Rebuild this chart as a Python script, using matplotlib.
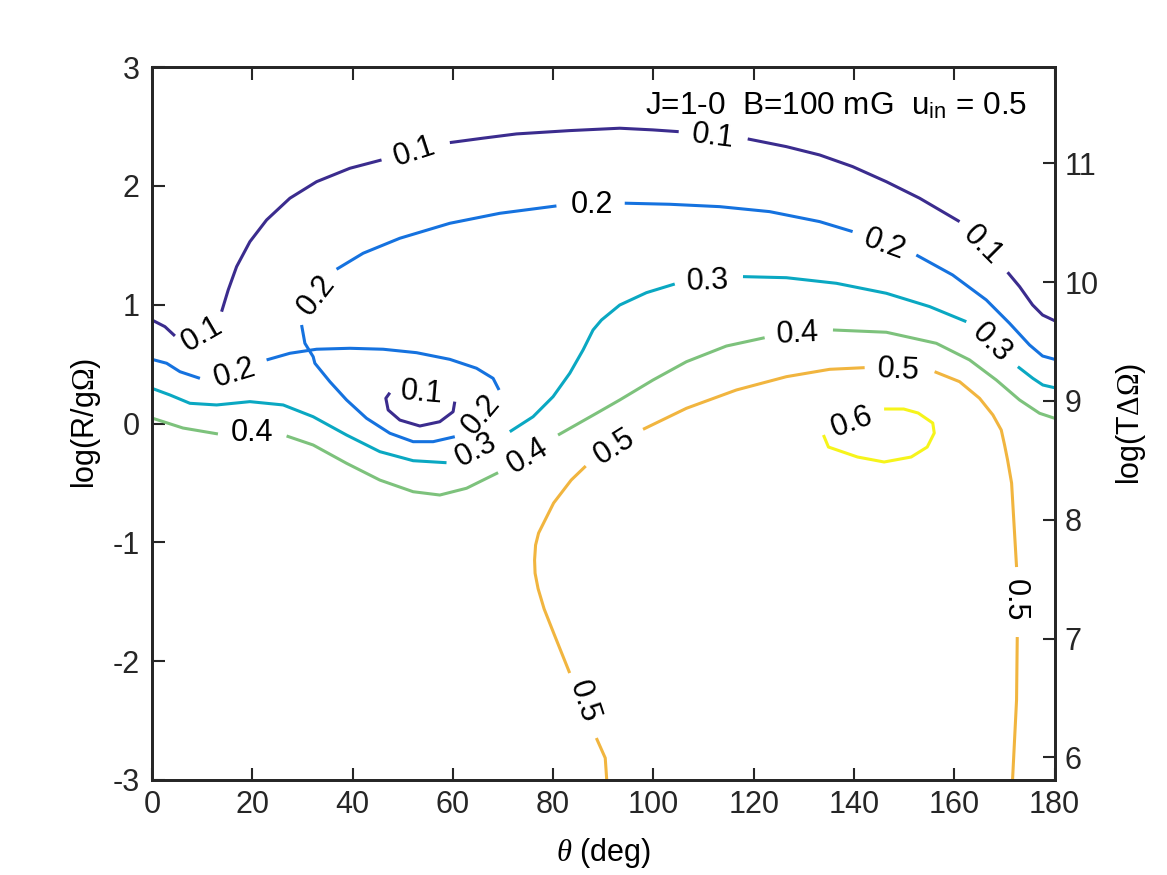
import numpy as np
import matplotlib
matplotlib.use('Agg')
import matplotlib.pyplot as plt

plt.rcParams['font.family'] = ['Liberation Sans', 'DejaVu Sans']
plt.rcParams['axes.unicode_minus'] = False
plt.rcParams['mathtext.fontset'] = 'custom'
plt.rcParams['mathtext.it'] = 'Liberation Serif:italic'
plt.rcParams['mathtext.rm'] = 'Liberation Serif'
plt.rcParams['mathtext.sf'] = 'Liberation Sans'

# contour levels and parula-like colours
levels = [0.1, 0.2, 0.3, 0.4, 0.5, 0.6]
level_colors = ['#3b2c8e', '#1572df', '#0aa8c2', '#7dc27c', '#f1b53f', '#f6f41b']

# traced contour pieces (theta in deg, log(R/g Omega)); gaps are where labels sit
lev01_theta = [[0, 2.59, 4.58],
               [13.89, 15.21, 16.88, 19.53, 22.86, 27.51, 32.83, 39.47, 45.78],
               [59.40, 65.97, 72.69, 83.32, 93.28, 99.86, 105.04],
               [118.80, 126.51, 133.15, 139.72, 146.44, 153.08, 161.05],
               [170.62, 173.01, 175.60, 177.60, 180],
               [47.44, 46.64, 47.10, 49.43, 53.42, 57.40, 60.05, 60.39]]
lev01_logr = [[0.871, 0.815, 0.737],
              [0.941, 1.124, 1.320, 1.530, 1.713, 1.896, 2.035, 2.148, 2.218],
              [2.364, 2.401, 2.437, 2.465, 2.485, 2.471, 2.456],
              [2.395, 2.330, 2.260, 2.162, 2.035, 1.896, 1.699],
              [1.273, 1.152, 0.998, 0.913, 0.865],
              [0.259, 0.212, 0.114, 0.029, -0.021, 0.015, 0.099, 0.184]]

lev02_theta = [[0, 2.93, 5.58, 9.57],
               [22.86, 27.51, 32.83, 39.47, 46.10, 52.76, 59.40, 64.72, 68.03, 69.22],
               [29.84, 30.50, 32.15, 32.49, 35.48, 38.81, 42.79, 47.44, 52.08, 56.07, 60.39],
               [36.81, 42.12, 49.43, 59.40, 69.36, 80.66],
               [94.28, 103.25, 113.22, 123.18, 133.15, 139.72],
               [152.42, 159.66, 166.37, 171.02, 175.0, 177.60, 180]]
lev02_logr = [[0.540, 0.507, 0.436, 0.380],
              [0.535, 0.591, 0.625, 0.633, 0.625, 0.596, 0.540, 0.465, 0.380, 0.282],
              [0.829, 0.675, 0.562, 0.507, 0.352, 0.198, 0.044, -0.082, -0.153, -0.153, -0.111],
              [1.298, 1.433, 1.559, 1.685, 1.769, 1.831],
              [1.854, 1.845, 1.825, 1.783, 1.699, 1.615],
              [1.418, 1.250, 1.040, 0.843, 0.661, 0.568, 0.540]]

lev03_theta = [[0, 3.59, 7.57, 12.90, 19.53, 26.17, 32.15, 38.81, 45.44, 52.08, 58.74],
               [71.36, 76.0, 79.99, 83.32, 85.97, 87.96, 89.64, 93.28, 98.60, 104.25],
               [117.86, 126.51, 136.48, 146.44, 155.07, 162.39],
               [172.67, 175.66, 177.65, 180]]
lev03_logr = [[0.296, 0.240, 0.170, 0.156, 0.184, 0.156, 0.057, -0.097, -0.237, -0.313, -0.330],
              [-0.069, 0.057, 0.226, 0.423, 0.619, 0.787, 0.871, 0.997, 1.101, 1.174],
              [1.236, 1.227, 1.180, 1.096, 0.984, 0.857],
              [0.478, 0.380, 0.324, 0.301]]

lev04_theta = [[0, 6.18, 13.16],
               [26.85, 32.15, 38.81, 45.44, 52.08, 57.40, 62.73, 69.02],
               [80.98, 88.64, 93.28, 99.92, 106.58, 114.55, 122.18],
               [135.80, 146.44, 156.41, 163.04, 168.37, 173.01, 177.0, 180]]
lev04_logr = [[0.046, -0.038, -0.088],
              [-0.105, -0.181, -0.335, -0.476, -0.574, -0.602, -0.545, -0.414],
              [-0.097, 0.086, 0.198, 0.366, 0.520, 0.652, 0.722],
              [0.787, 0.768, 0.675, 0.535, 0.366, 0.198, 0.086, 0.044]]

lev05_theta = [[90.69, 90.39, 88.62],
               [83.3, 80.1, 78.2, 77.0, 76.4, 76.3, 76.5, 77.1, 80.1, 83.6, 86.5],
               [97.93, 106.58, 116.54, 126.51, 135.14, 142.12],
               [156.07, 161.05, 165.04, 167.69, 169.36, 170.02, 170.62, 171.42, 172.41],
               [172.55, 172.41, 171.61]]
lev05_logr = [[-3.0, -2.815, -2.647],
              [-2.100, -1.763, -1.560, -1.390, -1.260, -1.149, -1.023, -0.922, -0.669, -0.476, -0.358],
              [-0.049, 0.128, 0.282, 0.394, 0.456, 0.470],
              [0.436, 0.352, 0.212, 0.072, -0.055, -0.181, -0.307, -0.501, -1.208],
              [-1.797, -2.327, -3.0]]

lev06_theta = [[146.0, 149.9, 152.8, 155.7, 156.0, 154.6, 151.4, 146.0, 140.7, 134.9, 133.9]]
lev06_logr = [[0.122, 0.122, 0.088, 0.004, -0.080, -0.198, -0.282, -0.324, -0.282, -0.198, -0.097]]

# inline labels: position, text, screen rotation
label_theta = [9.97, 52.42, 111.76, 165.63, 53.76,
               16.54, 65.72, 32.83, 87.70, 146.06,
               64.72, 110.88, 167.37,
               19.93, 75.0, 128.82,
               86.11, 92.19, 148.75, 172.01,
               139.5]
label_logr = [0.753, 2.288, 2.414, 1.503, 0.259,
              0.423, 0.072, 1.082, 1.839, 1.503,
              -0.223, 1.194, 0.675,
              -0.080, -0.279, 0.751,
              -2.344, -0.198, 0.450, -1.486,
              0.013]
label_text = ['0.1', '0.1', '0.1', '0.1', '0.1',
              '0.2', '0.2', '0.2', '0.2', '0.2',
              '0.3', '0.3', '0.3',
              '0.4', '0.4', '0.4',
              '0.5', '0.5', '0.5', '0.5',
              '0.6']
label_rot = [30, 18, -7, -45, -5,
             17, 50, 52, 0, -20,
             27, 2, -44,
             0, 31, 3,
             -72, 32, -3, -90,
             20]

x_ticks = np.arange(0, 181, 20)
y_ticks = np.arange(-3, 4, 1)
right_ticks = np.arange(6, 12, 1)
right_offset = 8.81

all_theta = [lev01_theta, lev02_theta, lev03_theta, lev04_theta, lev05_theta, lev06_theta]
all_logr = [lev01_logr, lev02_logr, lev03_logr, lev04_logr, lev05_logr, lev06_logr]

fig = plt.figure(figsize = (11.67, 8.75), dpi = 100)
ax = fig.add_axes([0.1302, 0.1086, 0.7735, 0.8148])

for k in range(len(levels)) :
    for xs, ys in zip(all_theta[k], all_logr[k]) :
        ax.plot(xs, ys, color = level_colors[k], linewidth = 2.2,
                solid_capstyle = 'butt', solid_joinstyle = 'round')

for i in range(len(label_text)) :
    ax.text(label_theta[i], label_logr[i], label_text[i], fontsize = 22, rotation = label_rot[i],
            rotation_mode = 'anchor', ha = 'center', va = 'center', color = 'black')

ax.text(0.970, 0.934, r'J=1-0  B=100 mG  u$_{\mathsf{in}}$ = 0.5', transform = ax.transAxes,
        fontsize = 22.7, ha = 'right', va = 'baseline')

ax.set_xlim(0, 180)
ax.set_ylim(-3, 3)
ax.set_xticks(x_ticks)
ax.set_yticks(y_ticks)
ax.set_xlabel(r'$\theta$ (deg)', fontsize = 22)
ax.set_ylabel(r'log(R/g$\Omega$)', fontsize = 22)
ax.xaxis.set_label_coords(0.5, -0.079)
ax.yaxis.set_label_coords(-0.054, 0.5)
ax.tick_params(direction = 'in', length = 9, width = 1.5, labelsize = 22, top = True, right = False,
               colors = '#262626', pad = 7)
ax.tick_params(axis = 'y', pad = 9)

ax2 = ax.twinx()
ax2.set_ylim(-3 + right_offset, 3 + right_offset)
ax2.set_yticks(right_ticks)
ax2.set_ylabel(r'log(T$\Delta\Omega$)', fontsize = 22)
ax2.yaxis.set_label_coords(1.066, 0.5)
ax2.tick_params(direction = 'in', length = 9, width = 1.5, labelsize = 22, colors = '#262626', pad = 7)

for a in [ax, ax2] :
    for s in a.spines.values() :
        s.set_linewidth(2.0)
        s.set_color('#262626')

fig.savefig('out.png', dpi = 100)
